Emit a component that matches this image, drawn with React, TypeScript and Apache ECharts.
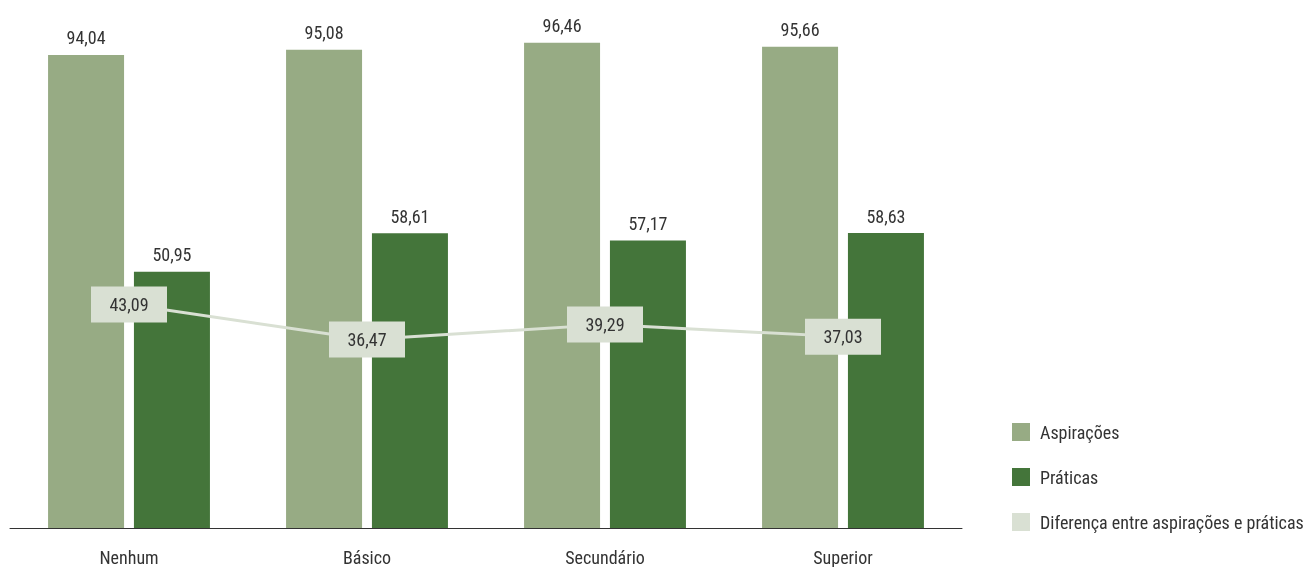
import React, { useEffect, useRef } from "react";
import * as echarts from "echarts";

const categories = ["Nenhum", "Básico", "Secundário", "Superior"];
const aspiracoes = [94.04, 95.08, 96.46, 95.66];
const praticas = [50.95, 58.61, 57.17, 58.63];
const diferenca = [43.09, 36.47, 39.29, 37.03];

const FONT = "'Roboto Condensed', 'DejaVu Sans Condensed', sans-serif";
const fmt = (v: number) => v.toFixed(2).replace(".", ",");

export default function App() {
  const ref = useRef<HTMLDivElement>(null);
  useEffect(() => {
    if (!ref.current) return;
    const chart = echarts.init(ref.current, null, { renderer: "svg" });
    const barLabel = {
      show: true,
      position: "top",
      distance: 8,
      color: "#333",
      fontSize: 18,
      fontFamily: FONT,
      formatter: (p: any) => fmt(p.value),
    };
    chart.setOption({
      animation: false,
      textStyle: { fontFamily: FONT },
      grid: { left: 10, right: 346, top: 25, bottom: 39 },
      legend: {
        orient: "vertical",
        left: 1007,
        top: 418,
        itemWidth: 18,
        itemHeight: 18,
        itemGap: 27,
        textStyle: { fontFamily: FONT, fontSize: 18, color: "#333", padding: [0, 0, 0, 5] },
        data: [
          { name: "Aspirações", icon: "rect" },
          { name: "Práticas", icon: "rect" },
          { name: "Diferença entre aspirações e práticas", icon: "rect" },
        ],
      },
      xAxis: {
        type: "category",
        data: categories,
        axisLine: { lineStyle: { color: "#333", width: 1 } },
        axisTick: { show: false },
        axisLabel: { color: "#333", fontSize: 18, fontFamily: FONT, margin: 20 },
      },
      yAxis: [
        { type: "value", min: 0, max: 100, show: false, splitLine: { show: false } },
        { type: "value", min: 1, max: 95.7, show: false, splitLine: { show: false } },
      ],
      series: [
        {
          name: "Aspirações",
          type: "bar",
          data: aspiracoes,
          barWidth: 76,
          barGap: "13%",
          itemStyle: { color: "#97ab84" },
          label: barLabel,
        },
        {
          name: "Práticas",
          type: "bar",
          data: praticas,
          barWidth: 76,
          itemStyle: { color: "#44753a" },
          label: barLabel,
        },
        {
          name: "Diferença entre aspirações e práticas",
          type: "line",
          yAxisIndex: 1,
          data: diferenca,
          symbol: "rect",
          symbolSize: 1,
          itemStyle: { color: "#d9e0d3" },
          lineStyle: { color: "#d9e0d3", width: 3 },
          z: 10,
          label: {
            show: true,
            position: "inside",
            color: "#333",
            fontSize: 18,
            fontFamily: FONT,
            backgroundColor: "#d9e0d3",
            width: 76,
            height: 36,
            lineHeight: 36,
            align: "center",
            verticalAlign: "middle",
            formatter: (p: any) => fmt(p.value),
          },
        },
      ],
    });
    return () => chart.dispose();
  }, []);
  return (
    <div
      ref={ref}
      style={{ position: "fixed", left: 0, top: 0, width: 1308, height: 567 }}
    />
  );
}
